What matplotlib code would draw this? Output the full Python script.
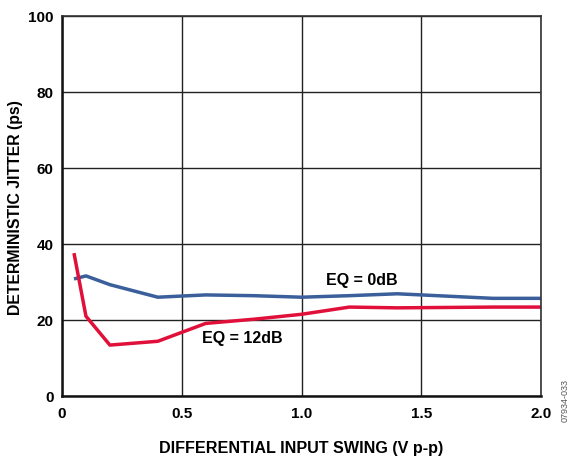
import matplotlib
matplotlib.use("Agg")
import matplotlib.pyplot as plt

plt.rcParams["font.family"] = ["Liberation Sans", "DejaVu Sans"]
plt.rcParams["font.weight"] = "bold"

# EQ = 0dB
swing_0db = [0.05, 0.1, 0.2, 0.4, 0.6, 0.8, 1.0, 1.2, 1.4, 1.6, 1.8, 2.0]
jitter_0db = [30.8, 31.6, 29.3, 26.0, 26.6, 26.4, 26.0, 26.4, 26.9, 26.3, 25.7, 25.7]

# EQ = 12dB
swing_12db = [0.05, 0.1, 0.2, 0.4, 0.6, 0.8, 1.0, 1.2, 1.4, 1.6, 1.8, 2.0]
jitter_12db = [37.6, 21.0, 13.4, 14.4, 19.1, 20.2, 21.5, 23.4, 23.2, 23.3, 23.4, 23.4]

xticks = [0, 0.5, 1.0, 1.5, 2.0]
xtick_labels = ["0", "0.5", "1.0", "1.5", "2.0"]
yticks = [0, 20, 40, 60, 80, 100]

fig = plt.figure(figsize=(5.74, 4.57), dpi=100)
ax = fig.add_axes([62 / 574, 1 - 396 / 457, 479 / 574, 380 / 457])

ax.plot(swing_0db, jitter_0db, color="#3a5f9a", lw=2.5, solid_capstyle="butt")
ax.plot(swing_12db, jitter_12db, color="#e0103a", lw=2.5, solid_capstyle="butt")

ax.set_xlim(0, 2.0)
ax.set_ylim(0, 100)
ax.set_xticks(xticks)
ax.set_xticklabels(xtick_labels)
ax.set_yticks(yticks)
ax.grid(True, color="#222222", lw=1.0)
ax.tick_params(axis="x", length=0, labelsize=11, pad=8)
ax.tick_params(axis="y", length=0, labelsize=11, pad=6)
for lab in ax.get_xticklabels() + ax.get_yticklabels():
    lab.set_fontweight("bold")
for side in ["left", "bottom"]:
    ax.spines[side].set_linewidth(1.8)
    ax.spines[side].set_color("#111111")
for side in ["top", "right"]:
    ax.spines[side].set_linewidth(1.2)
    ax.spines[side].set_color("#333333")

ax.set_xlabel("DIFFERENTIAL INPUT SWING (V p-p)", fontsize=11.6, fontweight="bold", labelpad=14)
fig.text(16 / 574, 1 - 208 / 457, "DETERMINISTIC JITTER (ps)", rotation=90,
         fontsize=11.4, fontweight="bold", ha="center", va="center")

ax.text(1.253, 30.3, "EQ = 0dB", fontsize=11.5, fontweight="bold", ha="center", va="center")
ax.text(0.752, 15.0, "EQ = 12dB", fontsize=11.5, fontweight="bold", ha="center", va="center")

fig.text(565 / 574, 1 - 400 / 457, "07934-033", rotation=90, fontsize=6.5,
         color="#555555", ha="center", va="center", fontweight="normal")

fig.savefig("out.png", dpi=100)
